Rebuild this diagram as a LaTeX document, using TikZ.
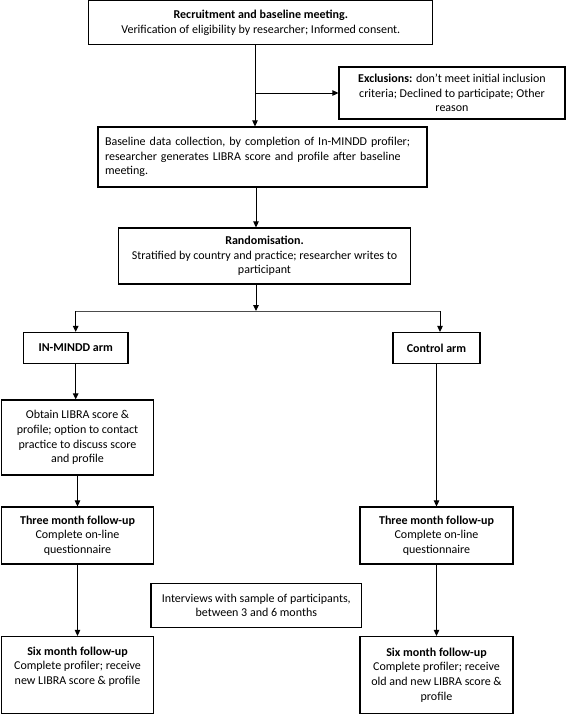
\documentclass[tikz,border=0pt]{standalone}
\usepackage{fontspec}
\setmainfont{Carlito}
\usetikzlibrary{arrows.meta}
\begin{document}
\begin{tikzpicture}[x=1pt,y=-1pt,
  box/.style={draw, line width=1.2pt, inner sep=0pt, align=center,
    font=\fontsize{12}{14.6}\selectfont},
  arr/.style={-{Triangle[length=6pt,width=5.5pt]}, line width=1pt},
  ln/.style={line width=1pt}]
\useasboundingbox (0,0) rectangle (567,715);

\node[box, minimum width=344, minimum height=44] (top) at (260.8,22.6)
  {\textbf{Recruitment and baseline meeting.}\\Verification of eligibility by researcher; Informed consent.};
\node[box, minimum width=226, minimum height=52] (excl) at (452,93)
  {\textbf{Exclusions:} don’t meet initial inclusion\\criteria; Declined to participate; Other\\reason};
\node[box, minimum width=329, minimum height=60, text width=315, align=left] (base) at (262.5,157)
  {Baseline data collection, by completion of In-MINDD profiler;\\researcher generates LIBRA score and profile after baseline\\meeting.};
\node[box, minimum width=292, minimum height=56] (rand) at (264.5,256)
  {\textbf{Randomisation.}\\Stratified by country and practice; researcher writes to\\participant};
\node[box, minimum width=104.5, minimum height=31] (inm) at (75.7,348)
  {\textbf{IN-MINDD arm}};
\node[box, minimum width=87, minimum height=31] (ctrl) at (436.5,348)
  {\textbf{Control arm}};
\node[box, minimum width=152, minimum height=75] (obt) at (77.5,437.5)
  {Obtain LIBRA score \&\\profile; option to contact\\practice to discuss score\\and profile};
\node[box, minimum width=152, minimum height=57] (thl) at (77.5,535.5)
  {\textbf{Three month follow-up}\\Complete on-line\\questionnaire};
\node[box, minimum width=153, minimum height=57] (thr) at (436.5,535.5)
  {\textbf{Three month follow-up}\\Complete on-line\\questionnaire};
\node[box, minimum width=210.7, minimum height=44] (intv) at (256.3,605.3)
  {Interviews with sample of participants,\\between 3 and 6 months};
\node[box, minimum width=152, minimum height=77] (sxl) at (77.5,675)
  {\textbf{Six month follow-up}\\Complete profiler; receive\\new LIBRA score \& profile\\\strut};
\node[box, minimum width=153, minimum height=77] (sxr) at (436.5,675)
  {\textbf{Six month follow-up}\\Complete profiler; receive\\old and new LIBRA score \&\\profile};

\coordinate (c1) at (255,0);
\coordinate (sp) at (256,311);
\coordinate (sr) at (440,311);

\draw[arr] (top.south -| c1) -- (base.north -| c1);
\draw[arr] (c1 |- excl.west) -- (excl.west);
\draw[arr] (base.south -| sp) -- (rand.north -| sp);
\draw[arr] (rand.south -| sp) -- (sp);
\draw[ln, black!70] (inm.north |- sp) -- (sr);
\draw[arr] (inm.north |- sp) -- (inm.north);
\draw[arr] (sr) -- (ctrl.north -| sr);
\draw[arr] (inm.south) -- (obt.north -| inm.south);
\draw[arr] (obt.south) -- (thl.north);
\draw[arr] (thl.south) -- (sxl.north);
\draw[arr] (ctrl.south) -- (thr.north);
\draw[arr] (thr.south) -- (sxr.north);
\end{tikzpicture}
\end{document}
